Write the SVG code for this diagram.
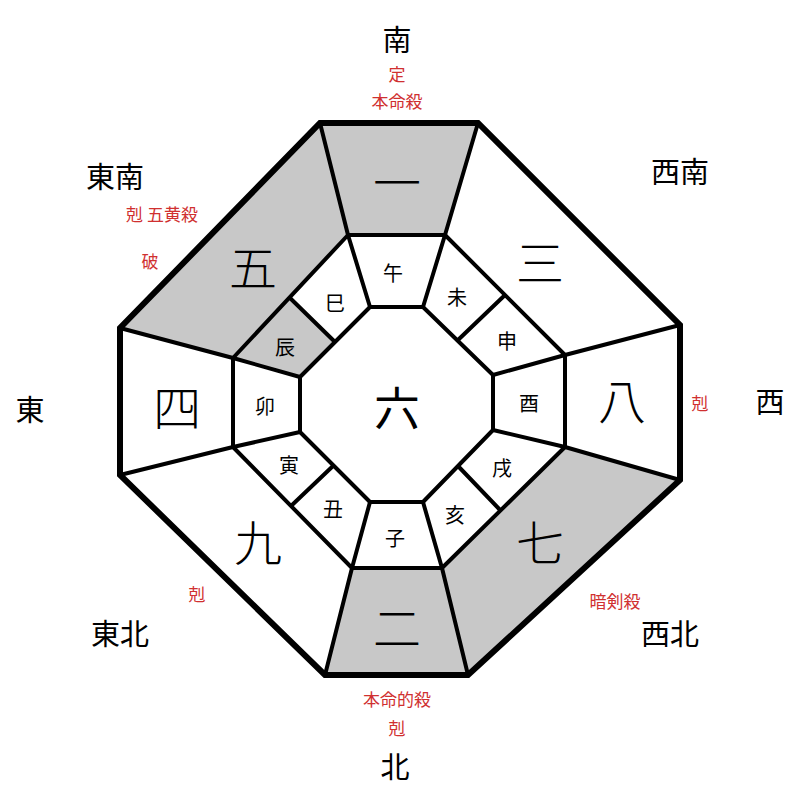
<svg xmlns="http://www.w3.org/2000/svg" width="800" height="800" viewBox="0 0 800 800">
<style>
text{font-family:"Noto Sans CJK JP","Noto Sans CJK SC",sans-serif;text-anchor:middle;dominant-baseline:central;fill:#000}
.dir{font-size:29px}
.red{font-size:17px;fill:#d03030}
.big{font-size:48px;font-weight:300}
.br{font-size:20px}
.ln{stroke:#000;stroke-width:4;fill:none;stroke-linejoin:round}
.g{fill:#c8c8c8}
</style>
<rect width="800" height="800" fill="#fff"/>
<g id="shading">
<polygon class="g" points="320,123 478,123 445,235 348,235"/>
<polygon class="g" points="120,328 320,123 348,235 290,298 233,358"/>
<polygon class="g" points="290,298 335,342 300,377 233,358"/>
<polygon class="g" points="680,480 468,675 442,568 565,447"/>
<polygon class="g" points="325,675 468,675 442,568 352,568"/>
</g>
<g id="connectors">
<polygon class="ln" points="348,235 445,235 565,355 565,447 442,568 352,568 233,447 233,358"/>
<polygon class="ln" points="370,307 423,307 493,375 493,430 423,502 370,502 300,432 300,377"/>
<path class="ln" d="M320,123L348,235M478,123L445,235M680,325L565,355M680,480L565,447M468,675L442,568M325,675L352,568M120,475L233,447M120,328L233,358"/>
<path class="ln" d="M348,235L370,307M445,235L423,307M565,355L493,375M565,447L493,430M442,568L423,502M352,568L370,502M233,447L300,432M233,358L300,377"/>
<path class="ln" d="M505,295L458,340M290,298L335,342M291,506L333,466M501,511L458,466"/>
<polygon points="320,123 478,123 680,325 680,480 468,675 325,675 120,475 120,328" fill="none" stroke="#000" stroke-width="6" stroke-linejoin="miter"/>
</g>
<g id="center"><text x="397" y="405" font-size="46">六</text></g>
<g id="palaces">
<text class="big" x="397" y="180">一</text>
<text class="big" x="253" y="265">五</text>
<text class="big" x="540" y="260">三</text>
<text class="big" x="177" y="405">四</text>
<text class="big" x="622" y="398">八</text>
<text class="big" x="258" y="540">九</text>
<text class="big" x="540" y="540">七</text>
<text class="big" x="397" y="625">二</text>
</g>
<g id="branches">
<text class="br" x="393" y="272">午</text>
<text class="br" x="457" y="296">未</text>
<text class="br" x="507" y="340">申</text>
<text class="br" x="529" y="402">酉</text>
<text class="br" x="502" y="467">戌</text>
<text class="br" x="455" y="514">亥</text>
<text class="br" x="395" y="537">子</text>
<text class="br" x="333" y="508">丑</text>
<text class="br" x="289" y="464">寅</text>
<text class="br" x="265" y="405">卯</text>
<text class="br" x="285" y="346">辰</text>
<text class="br" x="335" y="302">巳</text>
</g>
<g id="labels">
<text class="dir" x="397" y="38">南</text>
<text class="red" x="397" y="73">定</text>
<text class="red" x="397" y="100">本命殺</text>
<text class="dir" x="115" y="175">東南</text>
<text class="red" x="162" y="213">剋 五黄殺</text>
<text class="red" x="150" y="260">破</text>
<text class="dir" x="680" y="170">西南</text>
<text class="dir" x="30" y="408">東</text>
<text class="dir" x="770" y="400">西</text>
<text class="red" x="700" y="402">剋</text>
<text class="dir" x="120" y="632">東北</text>
<text class="red" x="197" y="593">剋</text>
<text class="dir" x="670" y="632">西北</text>
<text class="red" x="615" y="600">暗剣殺</text>
<text class="red" x="397" y="698">本命的殺</text>
<text class="red" x="397" y="727">剋</text>
<text class="dir" x="395" y="765">北</text>
</g>
</svg>
